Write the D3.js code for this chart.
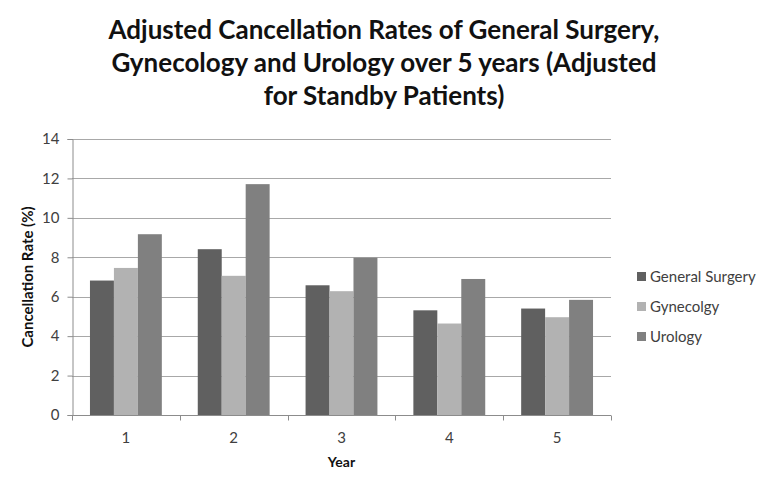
<!DOCTYPE html>
<html lang="en">
  <head>
    <meta charset="utf-8">
    <title>Adjusted Cancellation Rates</title>
    <script src="https://d3js.org/d3.v7.min.js"></script>
    <style>
      body { margin: 0; background: #fff; }
      #chart text { font-family: Lato, "Open Sans", sans-serif; }
    </style>
  </head>
  <body>
    <div id="chart"></div>
    <script>
      "use strict"

      // dados
      const anos = ["1", "2", "3", "4", "5"];
      const series = ["General Surgery", "Gynecolgy", "Urology"];
      const generalSurgery = [6.82, 8.41, 6.58, 5.31, 5.40];
      const gynecology = [7.46, 7.06, 6.28, 4.64, 4.96];
      const urology = [9.17, 11.71, 7.98, 6.90, 5.84];
      const yTicks = [0, 2, 4, 6, 8, 10, 12, 14];
      const titulo = [
        "Adjusted Cancellation Rates of General Surgery,",
        "Gynecology and Urology over 5 years (Adjusted",
        "for Standby Patients)"
      ];

      const cores = ["#606060", "#b2b2b2", "#808080"];
      const valores = [generalSurgery, gynecology, urology];

      const larguraSVG = 768, alturaSVG = 486;
      const margin = {top: 139, right: 157, bottom: 71, left: 72};
      const larguraVis = larguraSVG - margin.left - margin.right,
            alturaVis = alturaSVG - margin.top - margin.bottom;

      const svg = d3.select("#chart").append("svg")
        .attr("width", larguraSVG)
        .attr("height", alturaSVG);

      // titulo em tres linhas
      svg.append("g").selectAll("text")
        .data(titulo)
        .enter().append("text")
          .attr("x", 384)
          .attr("y", (d, i) => 39 + i * 33)
          .attr("text-anchor", "middle")
          .style("font-size", "26px")
          .style("font-weight", "bold")
          .attr("fill", "#111")
          .text(d => d);

      const g = svg.append("g")
        .attr("transform", "translate(" + margin.left + "," + margin.top + ")");

      const x = d3.scaleBand().domain(anos).range([0, larguraVis]);
      const xSerie = d3.scaleBand().domain(series)
        .range([0, x.bandwidth()]).paddingInner(0).paddingOuter(0.75);
      const y = d3.scaleLinear().domain([0, 14]).range([alturaVis, 0]);

      // linhas de grade
      g.append("g").selectAll("line")
        .data(yTicks.filter(t => t > 0))
        .enter().append("line")
          .attr("x1", 0).attr("x2", larguraVis)
          .attr("y1", d => Math.round(y(d)) + 0.5)
          .attr("y2", d => Math.round(y(d)) + 0.5)
          .attr("stroke", "#a8a8a8");

      // barras
      const grupos = g.append("g").selectAll("g")
        .data(anos)
        .enter().append("g")
          .attr("transform", d => "translate(" + x(d) + ",0)");

      grupos.selectAll("rect")
        .data((d, i) => series.map((s, j) => ({serie: s, j: j, v: valores[j][i]})))
        .enter().append("rect")
          .attr("x", d => xSerie(d.serie))
          .attr("width", xSerie.bandwidth())
          .attr("y", d => y(d.v))
          .attr("height", d => alturaVis - y(d.v))
          .attr("fill", d => cores[d.j]);

      // eixo y
      const eixoY = g.append("g")
        .attr("transform", "translate(0.5,0)")
        .call(d3.axisLeft(y).tickValues(yTicks).tickSize(5).tickPadding(8));
      eixoY.selectAll("line, path").attr("stroke", "#8c8c8c");
      eixoY.selectAll("text").style("font-size", "15px").attr("fill", "#404040");

      // eixo x com marcas entre categorias
      const eixoX = g.append("g")
        .attr("transform", "translate(0," + (alturaVis + 0.5) + ")");
      eixoX.append("line")
        .attr("x1", 0).attr("x2", larguraVis)
        .attr("stroke", "#8c8c8c");
      eixoX.selectAll("line.marca")
        .data(anos.concat(["fim"]))
        .enter().append("line")
          .attr("class", "marca")
          .attr("x1", (d, i) => Math.round(i * x.bandwidth()) + 0.5)
          .attr("x2", (d, i) => Math.round(i * x.bandwidth()) + 0.5)
          .attr("y1", 0).attr("y2", 5)
          .attr("stroke", "#8c8c8c");
      eixoX.selectAll("text")
        .data(anos)
        .enter().append("text")
          .attr("x", d => x(d) + x.bandwidth() / 2)
          .attr("y", 27)
          .attr("text-anchor", "middle")
          .style("font-size", "15px")
          .attr("fill", "#404040")
          .text(d => d);

      // titulos dos eixos
      svg.append("text")
        .attr("transform", "translate(33," + (margin.top + alturaVis / 2) + ") rotate(-90)")
        .attr("text-anchor", "middle")
        .style("font-size", "15px")
        .style("font-weight", "bold")
        .attr("fill", "#111")
        .text("Cancellation Rate (%)");

      svg.append("text")
        .attr("x", margin.left + larguraVis / 2)
        .attr("y", 467)
        .attr("text-anchor", "middle")
        .style("font-size", "14px")
        .style("font-weight", "bold")
        .attr("fill", "#111")
        .text("Year");

      // legenda
      const legenda = svg.append("g").selectAll("g")
        .data(series)
        .enter().append("g")
          .attr("transform", (d, i) => "translate(637," + (272 + i * 30) + ")");
      legenda.append("rect")
        .attr("width", 9).attr("height", 9)
        .attr("fill", (d, i) => cores[i]);
      legenda.append("text")
        .attr("x", 13).attr("y", 10)
        .style("font-size", "15px")
        .attr("fill", "#404040")
        .text(d => d);
    </script>
  </body>
</html>
